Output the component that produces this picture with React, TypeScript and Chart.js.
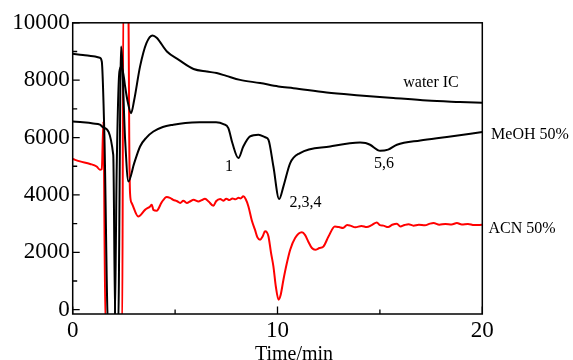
import { useEffect, useRef } from "react";
import { Chart, registerables } from "chart.js";
Chart.register(...registerables);

const FONT = "'Liberation Serif', 'Times New Roman', serif";

// water IC (black, upper)
const waterTime = [0, 0.5, 1.0, 1.32, 1.42, 1.55, 1.73, 2.05, 2.15, 2.28, 2.38, 2.5, 2.56, 2.7, 2.85, 3.0, 3.29, 3.6, 3.9, 4.1, 4.6, 5.2, 5.9, 6.55, 7.03, 7.5, 8.17, 9.15, 10.04, 10.78, 12.4, 14.03, 15.66, 17.3, 18.9, 20];
const waterSignal = [8920, 8880, 8830, 8780, 8650, 6000, -600, -600, 5000, 8300, 8480, 8100, 7780, 7200, 6850, 7300, 8480, 9290, 9560, 9480, 9000, 8700, 8390, 8300, 8250, 8150, 8010, 7900, 7780, 7720, 7570, 7470, 7380, 7290, 7240, 7210];

// MeOH 50% (black, middle)
const meohTime = [0, 0.5, 1.0, 1.33, 1.5, 1.98, 2.08, 2.22, 2.36, 2.56, 2.72, 3.0, 3.29, 3.6, 3.94, 4.4, 4.91, 5.5, 6.2, 7.0, 7.36, 7.6, 7.8, 8.09, 8.33, 8.66, 9.07, 9.4, 9.56, 9.8, 10.08, 10.29, 10.62, 11.1, 12.57, 14.03, 14.3, 14.52, 15.01, 15.4, 15.83, 16.97, 18.27, 20];
const meohSignal = [6560, 6530, 6490, 6450, 6350, 5400, -600, -600, 9170, 5920, 4470, 5100, 5690, 6000, 6210, 6370, 6450, 6510, 6530, 6530, 6470, 6330, 5800, 5285, 5690, 6040, 6100, 6010, 5920, 4990, 3855, 4300, 5110, 5460, 5690, 5830, 5810, 5750, 5540, 5580, 5750, 5900, 6020, 6190];

// ACN 50% (red, lower)
const acnTime = [0, 0.36, 0.85, 1.17, 1.33, 1.42, 1.5, 1.6, 2.42, 2.47, 2.72, 2.76, 2.8, 2.88, 3.2, 3.53, 3.78, 3.86, 3.94, 4.1, 4.35, 4.59, 4.75, 4.91, 5.1, 5.25, 5.4, 5.57, 5.75, 5.9, 6.14, 6.3, 6.46, 6.65, 6.87, 7.0, 7.2, 7.35, 7.5, 7.65, 7.8, 7.95, 8.1, 8.2, 8.33, 8.45, 8.58, 8.75, 8.9, 9.02, 9.15, 9.28, 9.39, 9.48, 9.56, 9.68, 9.8, 9.92, 10.05, 10.15, 10.29, 10.45, 10.62, 10.86, 11.19, 11.35, 11.5, 11.68, 11.84, 12.05, 12.24, 12.49, 12.8, 13.0, 13.2, 13.4, 13.55, 13.8, 14.1, 14.36, 14.6, 14.85, 15.0, 15.17, 15.4, 15.6, 15.83, 16.0, 16.2, 16.4, 16.64, 16.9, 17.2, 17.45, 17.62, 17.9, 18.2, 18.5, 18.76, 19.0, 19.3, 19.6, 20];
const acnSignal = [5250, 5170, 5080, 4990, 4880, 4900, 6560, -600, -600, 10800, 10800, 6000, 4060, 3720, 3250, 3480, 3600, 3660, 3480, 3450, 3750, 3930, 3900, 3830, 3780, 3720, 3800, 3720, 3780, 3830, 3770, 3820, 3870, 3760, 3620, 3780, 3860, 3800, 3870, 3820, 3880, 3850, 3900, 3880, 3950, 3850, 3600, 3100, 2790, 2520, 2440, 2560, 2730, 2700, 2550, 2000, 1510, 800, 350, 500, 1045, 1600, 2090, 2500, 2700, 2600, 2380, 2150, 2090, 2150, 2200, 2550, 2900, 2880, 2850, 2950, 2930, 2870, 2920, 2880, 2950, 3040, 2950, 2930, 2880, 2960, 3000, 2900, 2950, 2980, 2930, 2960, 2940, 3000, 3020, 2960, 2990, 2970, 3020, 2970, 2990, 2950, 2960];

const xMajorTicks = [0, 10, 20];
const xMinorTicks = [5, 15];
const yMajorTicks = [0, 2000, 4000, 6000, 8000, 10000];
const yMinorTicks = [1000, 3000, 5000, 7000, 9000];
const xTitle = "Time/min";

const labelTexts = ["water IC", "MeOH 50%", "ACN 50%", "1", "2,3,4", "5,6"];
const labelTimes = [16.14, 20.43, 20.3, 7.44, 10.59, 14.71];
const labelSignals = [7916, 6080, 2829, 4965, 3735, 5070];

const toPoints = (t: number[], v: number[]) => t.map((x, i) => ({ x, y: v[i] }));

const framePlugin = {
  id: "frameAndLabels",
  afterDraw(chart: any) {
    const { ctx, chartArea: a, scales } = chart;
    const xs = scales.x;
    const ys = scales.y;
    ctx.save();
    ctx.strokeStyle = "#000";
    ctx.lineWidth = 1.5;
    ctx.strokeRect(a.left, a.top, a.right - a.left, a.bottom - a.top);
    ctx.lineWidth = 1.3;
    ctx.beginPath();
    for (const v of yMajorTicks) {
      const p = ys.getPixelForValue(v);
      ctx.moveTo(a.left, p);
      ctx.lineTo(a.left + 7, p);
    }
    for (const v of yMinorTicks) {
      const p = ys.getPixelForValue(v);
      ctx.moveTo(a.left, p);
      ctx.lineTo(a.left + 4.5, p);
    }
    for (const v of xMajorTicks) {
      const p = xs.getPixelForValue(v);
      ctx.moveTo(p, a.bottom);
      ctx.lineTo(p, a.bottom - 7.5);
    }
    for (const v of xMinorTicks) {
      const p = xs.getPixelForValue(v);
      ctx.moveTo(p, a.bottom);
      ctx.lineTo(p, a.bottom - 4.5);
    }
    ctx.stroke();

    ctx.fillStyle = "#000";
    ctx.font = `16px ${FONT}`;
    ctx.textAlign = "left";
    ctx.textBaseline = "middle";
    labelTexts.forEach((txt, i) => {
      ctx.fillText(txt, xs.getPixelForValue(labelTimes[i]), ys.getPixelForValue(labelSignals[i]));
    });

    ctx.font = `20px ${FONT}`;
    ctx.textAlign = "center";
    ctx.textBaseline = "alphabetic";
    ctx.fillText(xTitle, 294, 359.5);
    ctx.restore();
  },
};

export default function App() {
  const ref = useRef<HTMLCanvasElement | null>(null);
  useEffect(() => {
    if (!ref.current) return;
    const chart = new Chart(ref.current, {
      type: "line",
      data: {
        datasets: [
          { label: "water IC", data: toPoints(waterTime, waterSignal), borderColor: "#000", borderWidth: 2, pointRadius: 0, cubicInterpolationMode: "monotone", clip: 0 },
          { label: "MeOH 50%", data: toPoints(meohTime, meohSignal), borderColor: "#000", borderWidth: 2, pointRadius: 0, cubicInterpolationMode: "monotone", clip: 0 },
          { label: "ACN 50%", data: toPoints(acnTime, acnSignal), borderColor: "#ff0000", borderWidth: 2, pointRadius: 0, cubicInterpolationMode: "monotone", clip: 0 },
        ],
      },
      options: {
        responsive: false,
        animation: false,
        devicePixelRatio: 1,
        layout: { padding: { left: 0, top: 22.8, right: 90.7, bottom: 0 } },
        plugins: { legend: { display: false }, tooltip: { enabled: false } },
        scales: {
          x: {
            type: "linear",
            min: 0,
            max: 20,
            grid: { display: false, drawTicks: false },
            border: { display: false },
            afterBuildTicks: (s: any) => { s.ticks = xMajorTicks.map((v) => ({ value: v })); },
            afterFit: (s: any) => { s.height = 46; },
            ticks: { color: "#000", font: { family: FONT, size: 23 }, padding: 3, maxRotation: 0, callback: (v: any) => String(v) },
          },
          y: {
            type: "linear",
            min: -150,
            max: 10000,
            grid: { display: false, drawTicks: false },
            border: { display: false },
            afterBuildTicks: (s: any) => { s.ticks = yMajorTicks.map((v) => ({ value: v })); },
            afterFit: (s: any) => { s.width = 72.7; },
            ticks: { color: "#000", font: { family: FONT, size: 23 }, padding: 3, callback: (v: any) => String(v) },
          },
        },
      },
      plugins: [framePlugin],
    } as any);
    return () => chart.destroy();
  }, []);
  return (
    <div style={{ position: "absolute", left: 0, top: 0, width: 573, height: 360, background: "#fff" }}>
      <canvas ref={ref} width={573} height={360} />
    </div>
  );
}
